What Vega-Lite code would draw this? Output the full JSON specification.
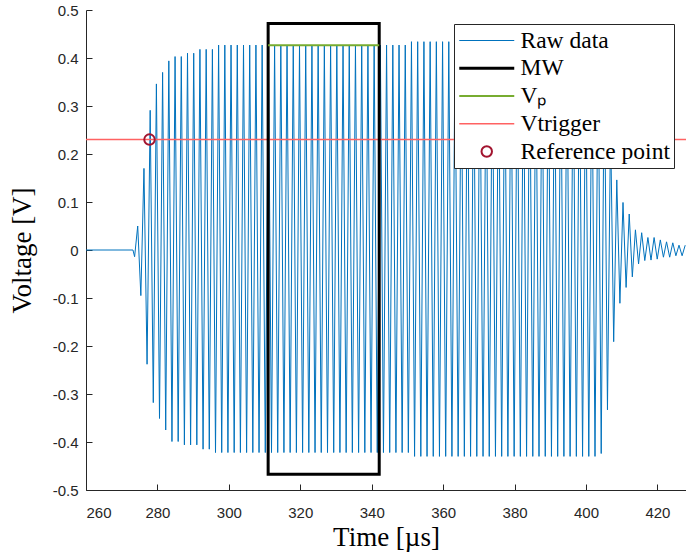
{
  "$schema": "https://vega.github.io/schema/vega-lite/v6.json",
  "width": 600,
  "height": 480,
  "autosize": {"type": "none"},
  "padding": {"left": 86, "top": 10, "right": 0, "bottom": 63},
  "background": "white",
  "config": {
    "view": {"stroke": null},
    "axis": {
      "grid": false,
      "domainColor": "#262626",
      "domainWidth": 1,
      "tickColor": "#262626",
      "tickWidth": 1,
      "tickSize": -6,
      "labelColor": "#262626",
      "labelFont": "Liberation Sans",
      "labelFontSize": 15,
      "titleFont": "Liberation Serif",
      "titleFontSize": 27,
      "titleFontWeight": "normal",
      "titleColor": "#000000"
    },
    "legend": {
      "orient": "none",
      "legendX": 368,
      "legendY": 14,
      "fillColor": "white",
      "strokeColor": "#262626",
      "padding": 4,
      "labelFont": "Liberation Serif",
      "labelFontSize": 23.5,
      "labelColor": "#000000",
      "labelOffset": 22,
      "symbolOffset": 17,
      "labelLimit": 400,
      "clipHeight": 25,
      "rowPadding": 2.75,
      "symbolSize": 3025,
      "symbolFillColor": "transparent"
    }
  },
  "datasets": {
    "raw": [
      {"t":260,"v":0},{"t":273.15,"v":0},
      {"t":273.61,"v":-0.014},{"t":274.48,"v":0.05},{"t":275.36,"v":-0.095},{"t":276.23,"v":0.17},{"t":277.10,"v":-0.238},{"t":277.97,"v":0.291},{"t":278.84,"v":-0.318},
      {"t":279.71,"v":0.346},{"t":280.58,"v":-0.351},
      {"t":281.45,"v":0.370},{"t":282.32,"v":-0.375},
      {"t":283.19,"v":0.394},{"t":284.07,"v":-0.399},
      {"t":284.94,"v":0.403},{"t":285.81,"v":-0.399},
      {"t":286.68,"v":0.403},{"t":287.55,"v":-0.406},
      {"t":288.42,"v":0.410},{"t":289.29,"v":-0.406},
      {"t":290.16,"v":0.410},{"t":291.03,"v":-0.406},
      {"t":291.90,"v":0.418},{"t":292.78,"v":-0.415},
      {"t":293.65,"v":0.418},{"t":294.52,"v":-0.415},
      {"t":295.39,"v":0.418},{"t":296.26,"v":-0.422},
      {"t":297.13,"v":0.427},{"t":298.00,"v":-0.422},
      {"t":298.87,"v":0.427},{"t":299.74,"v":-0.422},
      {"t":300.61,"v":0.427},{"t":301.49,"v":-0.422},
      {"t":302.36,"v":0.427},{"t":303.23,"v":-0.422},
      {"t":304.10,"v":0.427},{"t":304.97,"v":-0.422},
      {"t":305.84,"v":0.427},{"t":306.71,"v":-0.422},
      {"t":307.58,"v":0.427},{"t":308.45,"v":-0.422},
      {"t":309.32,"v":0.427},{"t":310.20,"v":-0.422},
      {"t":311.07,"v":0.427},{"t":311.94,"v":-0.422},
      {"t":312.81,"v":0.427},{"t":313.68,"v":-0.422},
      {"t":314.55,"v":0.427},{"t":315.42,"v":-0.422},
      {"t":316.29,"v":0.427},{"t":317.16,"v":-0.422},
      {"t":318.03,"v":0.427},{"t":318.91,"v":-0.422},
      {"t":319.78,"v":0.427},{"t":320.65,"v":-0.422},
      {"t":321.52,"v":0.427},{"t":322.39,"v":-0.422},
      {"t":323.26,"v":0.427},{"t":324.13,"v":-0.422},
      {"t":325.00,"v":0.427},{"t":325.87,"v":-0.422},
      {"t":326.74,"v":0.427},{"t":327.62,"v":-0.422},
      {"t":328.49,"v":0.427},{"t":329.36,"v":-0.422},
      {"t":330.23,"v":0.427},{"t":331.10,"v":-0.422},
      {"t":331.97,"v":0.427},{"t":332.84,"v":-0.422},
      {"t":333.71,"v":0.427},{"t":334.58,"v":-0.422},
      {"t":335.45,"v":0.427},{"t":336.33,"v":-0.422},
      {"t":337.20,"v":0.427},{"t":338.07,"v":-0.422},
      {"t":338.94,"v":0.427},{"t":339.81,"v":-0.422},
      {"t":340.68,"v":0.427},{"t":341.55,"v":-0.422},
      {"t":342.42,"v":0.427},{"t":343.29,"v":-0.422},
      {"t":344.16,"v":0.427},{"t":345.04,"v":-0.422},
      {"t":345.91,"v":0.427},{"t":346.78,"v":-0.422},
      {"t":347.65,"v":0.427},{"t":348.52,"v":-0.422},
      {"t":349.39,"v":0.427},{"t":350.26,"v":-0.422},
      {"t":351.13,"v":0.434},{"t":352.00,"v":-0.430},
      {"t":352.87,"v":0.434},{"t":353.75,"v":-0.430},
      {"t":354.62,"v":0.434},{"t":355.49,"v":-0.430},
      {"t":356.36,"v":0.434},{"t":357.23,"v":-0.430},
      {"t":358.10,"v":0.434},{"t":358.97,"v":-0.430},
      {"t":359.84,"v":0.434},{"t":360.71,"v":-0.430},
      {"t":361.58,"v":0.434},{"t":362.46,"v":-0.430},
      {"t":363.33,"v":0.434},{"t":364.20,"v":-0.430},
      {"t":365.07,"v":0.434},{"t":365.94,"v":-0.430},
      {"t":366.81,"v":0.434},{"t":367.68,"v":-0.430},
      {"t":368.55,"v":0.434},{"t":369.42,"v":-0.430},
      {"t":370.29,"v":0.434},{"t":371.17,"v":-0.430},
      {"t":372.04,"v":0.434},{"t":372.91,"v":-0.430},
      {"t":373.78,"v":0.434},{"t":374.65,"v":-0.430},
      {"t":375.52,"v":0.434},{"t":376.39,"v":-0.430},
      {"t":377.26,"v":0.434},{"t":378.13,"v":-0.430},
      {"t":379.00,"v":0.434},{"t":379.88,"v":-0.430},
      {"t":380.75,"v":0.434},{"t":381.62,"v":-0.430},
      {"t":382.49,"v":0.434},{"t":383.36,"v":-0.430},
      {"t":384.23,"v":0.434},{"t":385.10,"v":-0.430},
      {"t":385.97,"v":0.434},{"t":386.84,"v":-0.430},
      {"t":387.71,"v":0.434},{"t":388.59,"v":-0.430},
      {"t":389.46,"v":0.434},{"t":390.33,"v":-0.430},
      {"t":391.20,"v":0.434},{"t":392.07,"v":-0.430},
      {"t":392.94,"v":0.434},{"t":393.81,"v":-0.430},
      {"t":394.68,"v":0.434},{"t":395.55,"v":-0.430},
      {"t":396.42,"v":0.434},{"t":397.30,"v":-0.430},
      {"t":398.17,"v":0.434},{"t":399.04,"v":-0.430},
      {"t":399.91,"v":0.434},{"t":400.78,"v":-0.430},
      {"t":401.65,"v":0.434},{"t":402.52,"v":-0.430},
      {"t":403.39,"v":0.434},{"t":404.26,"v":-0.424},
      {"t":405.13,"v":0.40},{"t":406.01,"v":-0.333},
      {"t":406.88,"v":0.26},{"t":407.75,"v":-0.191},
      {"t":408.62,"v":0.146},{"t":409.49,"v":-0.111},
      {"t":410.36,"v":0.099},{"t":411.23,"v":-0.078},
      {"t":412.10,"v":0.075},{"t":412.97,"v":-0.056},
      {"t":413.84,"v":0.042},{"t":414.72,"v":-0.029},
      {"t":415.59,"v":0.036},{"t":416.46,"v":-0.022},
      {"t":417.33,"v":0.026},{"t":418.20,"v":-0.021},
      {"t":419.07,"v":0.026},{"t":419.94,"v":-0.019},
      {"t":420.81,"v":0.021},{"t":421.68,"v":-0.015},
      {"t":422.55,"v":0.017},{"t":423.43,"v":-0.015},
      {"t":424.30,"v":0.015},{"t":425.17,"v":-0.012},
      {"t":426.04,"v":0.010},{"t":426.91,"v":-0.012},
      {"t":427.78,"v":0.010}
    ],
    "mw": [{"t0": 311.0, "t1": 342.1, "v0": -0.467, "v1": 0.472}],
    "vp": [{"t0": 311.0, "t1": 342.1, "v": 0.4265}],
    "trig": [{"v": 0.23}],
    "ref": [{"t": 277.78, "v": 0.23}]
  },
  "encoding": {
    "x": {
      "type": "quantitative",
      "scale": {"domain": [260, 428], "nice": false, "zero": false},
      "axis": {"title": "Time [µs]", "values": [260, 280, 300, 320, 340, 360, 380, 400, 420], "labelPadding": 21, "titlePadding": 4}
    },
    "y": {
      "type": "quantitative",
      "scale": {"domain": [-0.5, 0.5], "nice": false, "zero": false},
      "axis": {
        "title": "Voltage [V]",
        "values": [-0.5, -0.4, -0.3, -0.2, -0.1, 0, 0.1, 0.2, 0.3, 0.4, 0.5],
        "labelExpr": "datum.value == 0 ? '0' : replace(format(datum.value, '.1f'), '−', '-')",
        "labelPadding": 14,
        "titlePadding": 16
      }
    }
  },
  "layer": [
    {
      "data": {"name": "raw"},
      "mark": {"type": "line", "clip": true, "strokeWidth": 1},
      "encoding": {
        "x": {"field": "t", "type": "quantitative"},
        "y": {"field": "v", "type": "quantitative"},
        "color": {
          "datum": "Raw data",
          "type": "nominal",
          "scale": {"domain": ["Raw data", "MW", "Vₚ", "Vtrigger", "Reference point"], "range": ["#0072BD", "#000000", "#77AC30", "#FF6262", "#A2142F"]},
          "legend": {
            "title": null,
            "symbolType": "stroke",
            "encode": {
              "symbols": {
                "update": {
                  "size": {"value": 3025},
                  "strokeWidth": {"signal": "datum.value === 'MW' ? 3 : datum.value === 'Raw data' ? 1 : datum.value === 'Vtrigger' ? 1.5 : 2"},
                  "shape": {"signal": "datum.value === 'Reference point' ? 'M0.19,0A0.19,0.19,0,1,1,-0.19,0A0.19,0.19,0,1,1,0.19,0Z' : 'stroke'"},
                  "fill": {"value": "transparent"}
                }
              }
            }
          }
        }
      }
    },
    {
      "data": {"name": "trig"},
      "mark": {"type": "rule", "strokeWidth": 1.5},
      "encoding": {
        "y": {"field": "v", "type": "quantitative"},
        "color": {"datum": "Vtrigger", "type": "nominal"}
      }
    },
    {
      "data": {"name": "mw"},
      "mark": {"type": "rect", "filled": false, "strokeWidth": 3},
      "encoding": {
        "x": {"field": "t0", "type": "quantitative"},
        "x2": {"field": "t1"},
        "y": {"field": "v0", "type": "quantitative"},
        "y2": {"field": "v1"},
        "color": {"datum": "MW", "type": "nominal"}
      }
    },
    {
      "data": {"name": "vp"},
      "mark": {"type": "rule", "strokeWidth": 2},
      "encoding": {
        "x": {"field": "t0", "type": "quantitative"},
        "x2": {"field": "t1"},
        "y": {"field": "v", "type": "quantitative"},
        "color": {"datum": "Vₚ", "type": "nominal"}
      }
    },
    {
      "data": {"name": "ref"},
      "mark": {"type": "point", "filled": false, "opacity": 1, "shape": "circle", "size": 110, "strokeWidth": 2},
      "encoding": {
        "x": {"field": "t", "type": "quantitative"},
        "y": {"field": "v", "type": "quantitative"},
        "color": {"datum": "Reference point", "type": "nominal"}
      }
    }
  ]
}
